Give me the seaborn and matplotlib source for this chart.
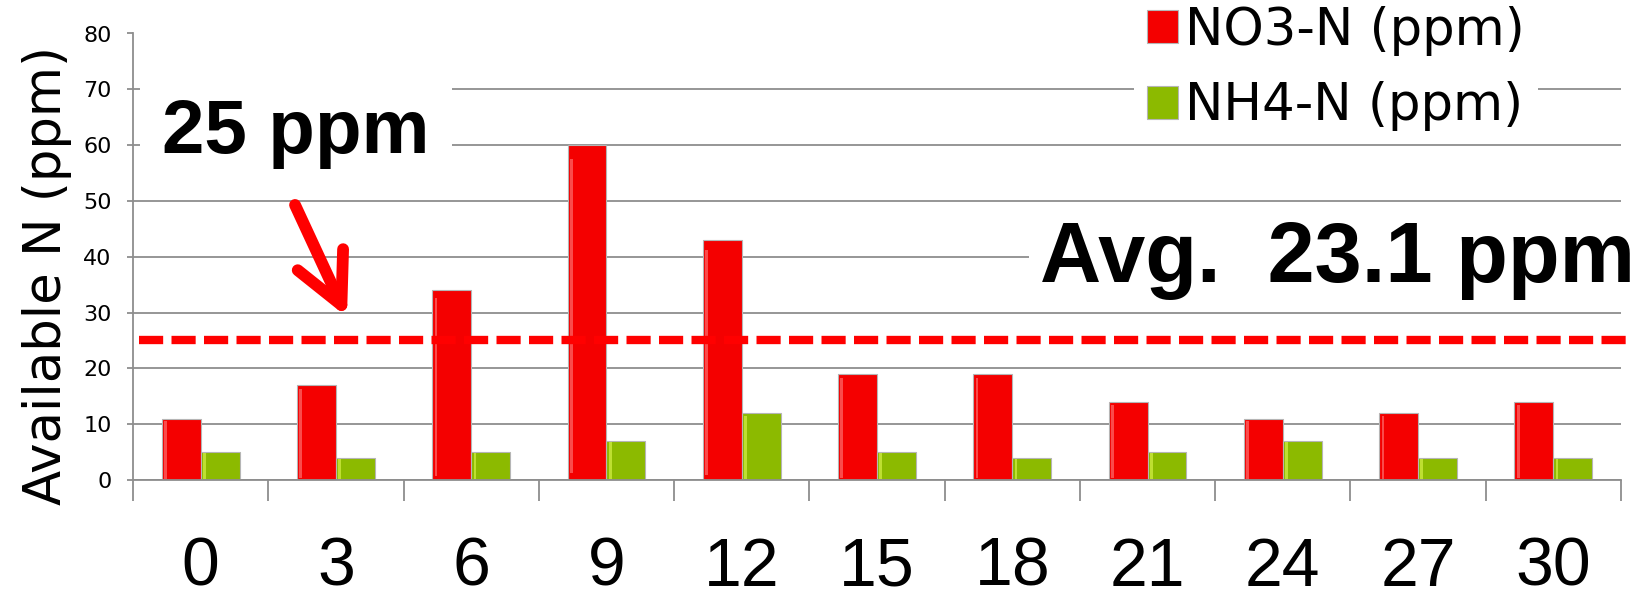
import matplotlib
matplotlib.use("Agg")
import matplotlib.pyplot as plt
from matplotlib.patches import Rectangle
from matplotlib.ticker import FixedLocator, MultipleLocator
import numpy as np
import pandas as pd
import seaborn as sns

# Sampling day and measured soil nitrogen (ppm)
days = ["0", "3", "6", "9", "12", "15", "18", "21", "24", "27", "30"]
no3_n = [11, 17, 34, 60, 43, 19, 19, 14, 11, 12, 14]
nh4_n = [5, 4, 5, 7, 12, 5, 4, 5, 7, 4, 4]
series_names = ["NO3-N (ppm)", "NH4-N (ppm)"]
threshold_ppm = 25
y_ticks = list(range(0, 81, 10))

df = pd.DataFrame({
    "Day": days * 2,
    "Form": [series_names[0]] * len(days) + [series_names[1]] * len(days),
    "ppm": no3_n + nh4_n,
})
avg_no3 = float(np.mean(no3_n))

RED = "#F40000"
GREEN = "#8CBA00"
GRID = "#8E8E8E"

sns.set_theme(style="white")
plt.rcParams["font.family"] = ["DejaVu Sans"]

fig = plt.figure(figsize=(16.43, 5.99), dpi=100)
ax = fig.add_axes([133 / 1643, 1 - 480 / 599, 1488 / 1643, 446.5 / 599])

sns.barplot(
    data=df, x="Day", y="ppm", hue="Form", order=days, hue_order=series_names,
    palette=[RED, GREEN], saturation=1, width=0.575, gap=0,
    edgecolor="#B5B5B5", linewidth=0.8, ax=ax, zorder=2,
)

# glossy highlight stripe near the left edge of every bar
highlights = {0: "#FF8A8A", 1: "#E9FF5A"}
for ci, cont in enumerate(ax.containers):
    for bar in cont:
        x, y = bar.get_x(), bar.get_y()
        w, h = bar.get_width(), bar.get_height()
        ax.add_patch(Rectangle((x + 0.06 * w, y + 0.02 * h), 0.07 * w, 0.94 * h,
                               facecolor=highlights[ci], edgecolor="none",
                               alpha=0.55, zorder=2.5))

ax.set_xlim(-0.5, len(days) - 0.5)
ax.set_ylim(0, 80)
ax.yaxis.set_major_locator(FixedLocator(y_ticks))
ax.yaxis.grid(True, color=GRID, lw=1.3)
ax.set_axisbelow(True)

for side in ["top", "right"]:
    ax.spines[side].set_visible(False)
for side in ["left", "bottom"]:
    ax.spines[side].set_color(GRID)
    ax.spines[side].set_linewidth(1.3)

# category dividers below the baseline
ax.xaxis.set_minor_locator(MultipleLocator(1, offset=0.5))
ax.tick_params(axis="x", which="minor", length=15, width=1.3, color=GRID, direction="out", bottom=True)
ax.tick_params(axis="x", which="major", length=0, pad=40)
ax.tick_params(axis="y", which="major", length=4.5, width=1.3, color=GRID, direction="out", left=True, pad=11)

for lab in ax.get_xticklabels():
    lab.set_fontfamily(["Liberation Sans", "DejaVu Sans"])
    lab.set_fontsize(49)
    lab.set_color("black")
for lab in ax.get_yticklabels():
    lab.set_fontsize(16)
    lab.set_color("black")

ax.set_xlabel("")
ax.set_ylabel("Available N (ppm)", fontsize=37, color="black")
ax.yaxis.set_label_coords(-0.041, 0.459)

# legend
handles, labels = ax.get_legend_handles_labels()
ax.legend(handles, labels, loc="upper left", bbox_to_anchor=(1134 / 1643, 1.012),
          bbox_transform=fig.transFigure, fontsize=37, frameon=True,
          facecolor="white", edgecolor="none", framealpha=1, fancybox=False,
          handlelength=0.6, handleheight=0.6, handletextpad=0.15,
          labelspacing=0.5, borderpad=0.25, borderaxespad=0, labelcolor="black")

# reference level
ax.axhline(threshold_ppm, xmin=0.004, xmax=1.006, color="#FF0000", lw=6,
           ls=(0, (2.9, 1.0)), dash_capstyle="butt", zorder=4, clip_on=False)

ax.text(0.0195, 0.732, f"{threshold_ppm} ppm", transform=ax.transAxes,
        fontsize=55, fontweight="bold", family=["Liberation Sans", "DejaVu Sans"],
        va="baseline", ha="left", color="black", zorder=5,
        bbox=dict(facecolor="white", edgecolor="none", pad=16))

ax.annotate("", xy=(0.1438, 0.365), xytext=(0.1089, 0.616),
            xycoords="axes fraction", textcoords="axes fraction",
            arrowprops=dict(arrowstyle="->,head_length=1.8,head_width=0.9",
                            mutation_scale=20, lw=8.5, color="#FF0000",
                            shrinkA=0, shrinkB=0, capstyle="round",
                            joinstyle="round"),
            zorder=5)

ax.text(0.6096, 0.4435, f"Avg.  {avg_no3:.1f} ppm", transform=ax.transAxes,
        fontsize=61, fontweight="bold", family=["Liberation Sans", "DejaVu Sans"],
        va="baseline", ha="left", color="black", zorder=5,
        bbox=dict(facecolor="white", edgecolor="none", pad=8))

fig.savefig("out.png", dpi=100)
